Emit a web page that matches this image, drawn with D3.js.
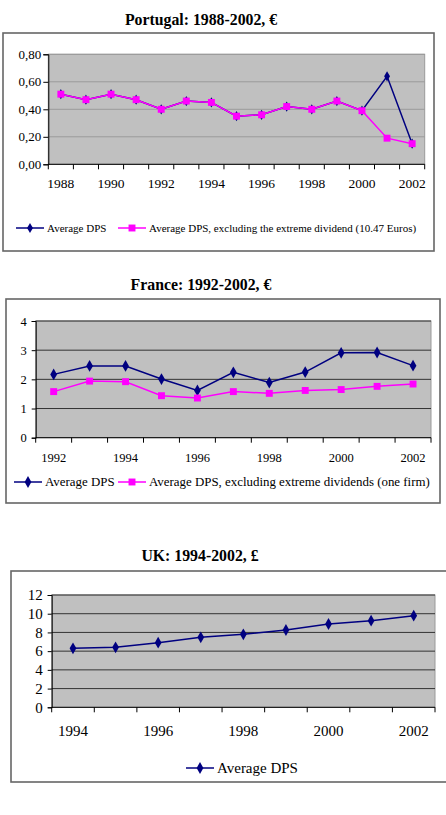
<!DOCTYPE html>
<html>
<head>
<meta charset="utf-8">
<script src="https://cdn.jsdelivr.net/npm/d3@7"></script>
<style>
  body { margin: 0; background: #fff; }
  text { font-family: "Liberation Serif", "Times New Roman", serif; fill: #000; }
</style>
</head>
<body>
<svg id="canvas" width="446" height="815"></svg>
<script>
// Portugal
const ptYears = d3.range(1988, 2003).map(String);
const ptAvg  = [0.51,0.47,0.51,0.47,0.40,0.46,0.45,0.35,0.36,0.42,0.40,0.46,0.39,0.64,0.15];
const ptExcl = [0.51,0.47,0.51,0.47,0.40,0.46,0.45,0.35,0.36,0.42,0.40,0.46,0.39,0.19,0.15];
const ptYTicks = [0, 0.2, 0.4, 0.6, 0.8];
const ptXLabels = ["1988","1990","1992","1994","1996","1998","2000","2002"];

// France
const frYears = d3.range(1992, 2003).map(String);
const frAvg  = [2.17,2.46,2.46,2.01,1.62,2.24,1.89,2.25,2.91,2.92,2.47];
const frExcl = [1.58,1.94,1.92,1.44,1.36,1.58,1.52,1.62,1.65,1.76,1.84];
const frYTicks = [0, 1, 2, 3, 4];
const frXLabels = ["1992","1994","1996","1998","2000","2002"];

// UK
const ukYears = d3.range(1994, 2003).map(String);
const ukAvg = [6.30,6.41,6.90,7.48,7.80,8.26,8.90,9.25,9.79];
const ukYTicks = [0, 2, 4, 6, 8, 10, 12];
const ukXLabels = ["1994","1996","1998","2000","2002"];

const navy = "#000080";
const pink = "#ff00ff";
const serif = "Liberation Serif, Times New Roman, serif";
const svg = d3.select("#canvas");
const commaFmt = d3.formatLocale({decimal: ",", thousands: ".", grouping: [3], currency: ["", "€"]}).format(".2f");

const diamond = d3.symbol().type(d3.symbolDiamond);
const square = d3.symbol().type(d3.symbolSquare);

function drawChart(c) {
  const g = svg.append("g").attr("font-family", serif);

  g.append("text")
    .attr("x", c.titleX).attr("y", c.titleY)
    .attr("text-anchor", "middle")
    .attr("font-weight", "bold").attr("font-size", c.titleSize)
    .text(c.title);

  g.append("rect")
    .attr("x", c.box[0]).attr("y", c.box[1]).attr("width", c.box[2]).attr("height", c.box[3])
    .attr("fill", "#fff").attr("stroke", "#666").attr("stroke-width", 1.6);

  const x = d3.scaleBand().domain(c.cats).range([c.px0, c.px1]);
  const y = d3.scaleLinear().domain([0, d3.max(c.yTicks)]).range([c.py0, c.py1]);

  g.append("rect")
    .attr("x", c.px0).attr("y", c.py1).attr("width", c.px1 - c.px0).attr("height", c.py0 - c.py1)
    .attr("fill", "#c0c0c0").attr("stroke", "#9a9a9a").attr("stroke-width", 1);

  g.selectAll(".grid").data(c.yTicks.slice(1)).enter().append("line")
    .attr("x1", c.px0).attr("x2", c.px1)
    .attr("y1", d => y(d)).attr("y2", d => y(d))
    .attr("stroke", c.gridCol).attr("stroke-width", 1);

  // y axis
  const yAxis = d3.axisLeft(y).tickValues(c.yTicks).tickFormat(c.yFmt).tickSize(c.yTick).tickPadding(c.yPad);
  const ya = g.append("g").attr("transform", `translate(${c.px0},0)`).call(yAxis)
    .attr("font-family", serif).attr("font-size", c.yFont);
  ya.select(".domain").attr("stroke", "#000");
  ya.selectAll("text").attr("font-family", serif).attr("font-size", c.yFont);

  // x axis: ticks at category boundaries
  const bounds = c.cats.map(d => x(d)).concat([c.px1]);
  g.append("line").attr("x1", c.px0).attr("x2", c.px1).attr("y1", c.py0).attr("y2", c.py0)
    .attr("stroke", "#000");
  g.selectAll(".xt").data(bounds).enter().append("line")
    .attr("x1", d => d).attr("x2", d => d).attr("y1", c.py0).attr("y2", c.py0 + 5)
    .attr("stroke", "#000");
  g.selectAll(".xl").data(c.xLabels).enter().append("text")
    .attr("x", d => x(d) + x.bandwidth() / 2).attr("y", c.xLabelY)
    .attr("text-anchor", "middle").attr("font-size", c.xFont)
    .text(d => d);

  const line = d3.line().x((d, i) => x(c.cats[i]) + x.bandwidth() / 2).y(d => y(d));

  c.series.forEach(s => {
    g.append("path").datum(s.values)
      .attr("d", line).attr("fill", "none")
      .attr("stroke", s.color).attr("stroke-width", 1.5);
    g.selectAll(null).data(s.values).enter().append("path")
      .attr("d", (s.marker === "square" ? square : diamond).size(s.size))
      .attr("transform", (d, i) => `translate(${x(c.cats[i]) + x.bandwidth() / 2},${y(d)})`)
      .attr("fill", s.color);
  });

  // legend
  c.series.forEach((s, i) => {
    const lx = c.legend[i];
    g.append("line").attr("x1", lx).attr("x2", lx + 28)
      .attr("y1", c.legendY).attr("y2", c.legendY)
      .attr("stroke", s.color).attr("stroke-width", 1.5);
    g.append("path")
      .attr("d", (s.marker === "square" ? square : diamond).size(s.size))
      .attr("transform", `translate(${lx + 14},${c.legendY})`)
      .attr("fill", s.color);
    g.append("text").attr("x", lx + 31).attr("y", c.legendY + c.legendSize * 0.33)
      .attr("font-size", c.legendSize).text(s.name);
  });
}

drawChart({
  title: "Portugal: 1988-2002, €", titleX: 201, titleY: 25, titleSize: 15.8,
  box: [3, 33, 431, 218],
  px0: 48.3, px1: 424.7, py0: 164.3, py1: 54.3,
  cats: ptYears, yTicks: ptYTicks, yFmt: commaFmt, xLabels: ptXLabels,
  gridCol: "#9a9a9a", yFont: 13, xFont: 13.5, yTick: 5, yPad: 2, xLabelY: 188,
  legend: [16, 118], legendY: 228, legendSize: 11,
  series: [
    {name: "Average DPS", values: ptAvg, color: navy, marker: "diamond", size: 30},
    {name: "Average DPS, excluding the extreme dividend (10.47 Euros)", values: ptExcl, color: pink, marker: "square", size: 48}
  ]
});

drawChart({
  title: "France: 1992-2002, €", titleX: 201, titleY: 290, titleSize: 15.8,
  box: [6, 299, 434, 204],
  px0: 35.7, px1: 431, py0: 437.7, py1: 321,
  cats: frYears, yTicks: frYTicks, yFmt: d3.format("d"), xLabels: frXLabels,
  gridCol: "#333", yFont: 12.5, xFont: 12.5, yTick: 4, yPad: 5, xLabelY: 462,
  legend: [14, 118], legendY: 482, legendSize: 12.9,
  series: [
    {name: "Average DPS", values: frAvg, color: navy, marker: "diamond", size: 40},
    {name: "Average DPS, excluding extreme dividends (one firm)", values: frExcl, color: pink, marker: "square", size: 48}
  ]
});

drawChart({
  title: "UK: 1994-2002, £", titleX: 200, titleY: 561, titleSize: 15.8,
  box: [11, 571, 440, 211],
  px0: 51.7, px1: 435, py0: 707.3, py1: 595,
  cats: ukYears, yTicks: ukYTicks, yFmt: d3.format("d"), xLabels: ukXLabels,
  gridCol: "#333", yFont: 15, xFont: 15, yTick: 4, yPad: 5, xLabelY: 736,
  legend: [186], legendY: 768, legendSize: 15,
  series: [
    {name: "Average DPS", values: ukAvg, color: navy, marker: "diamond", size: 40}
  ]
});
</script>
</body>
</html>
